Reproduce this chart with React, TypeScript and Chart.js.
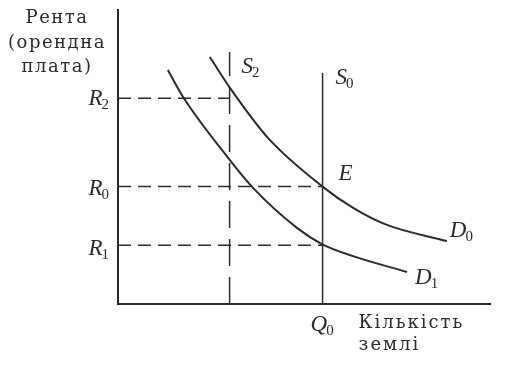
import React, { useEffect, useRef } from "react";
import { Chart, registerables } from "chart.js";

Chart.register(...registerables);

// Demand curves (quantity of land, rent)
const D0_X = [2.47, 3.01, 4.03, 5.48, 6.32, 7.23, 8.84];
const D0_Y = [8.4, 7.35, 5.65, 4.01, 3.27, 2.69, 2.14];
const D1_X = [1.34, 1.75, 2.96, 3.63, 4.81, 5.48, 6.32, 7.77];
const D1_Y = [7.96, 7.04, 4.97, 3.95, 2.59, 2.04, 1.63, 1.09];

// Supply lines (fixed quantities) and rent levels
const Q0 = 5.5;
const Q2 = 3.0;
const S0_TOP = 7.86;
const S2_TOP = 8.57;
const R2 = 7.0;
const R0 = 4.0;
const R1 = 2.0;

const Y_TITLE = ["Рента", "(орендна", "плата)"];
const X_TITLE = ["Кількість", "землі"];

const INK = "#2b2b2b";

const pts = (xs: number[], ys: number[]) => xs.map((x, i) => ({ x, y: ys[i] }));

function drawSub(
  ctx: CanvasRenderingContext2D,
  main: string,
  sub: string,
  x: number,
  cy: number,
  align: "left" | "right" | "center"
) {
  const mainFont = "italic 23px 'Liberation Serif', serif";
  const subFont = "15px 'Liberation Serif', serif";
  ctx.font = mainFont;
  const wm = ctx.measureText(main).width;
  ctx.font = subFont;
  const ws = ctx.measureText(sub).width;
  const total = wm + ws;
  let left = x;
  if (align === "right") left = x - total;
  if (align === "center") left = x - total / 2;
  ctx.textAlign = "left";
  ctx.textBaseline = "alphabetic";
  ctx.font = mainFont;
  ctx.fillText(main, left, cy + 7);
  ctx.font = subFont;
  ctx.fillText(sub, left + wm - 1, cy + 11);
}

const labelPlugin = {
  id: "labels",
  afterDraw(chart: any) {
    const ctx: CanvasRenderingContext2D = chart.ctx;
    const xs = chart.scales.x;
    const ys = chart.scales.y;
    const px = (v: number) => xs.getPixelForValue(v);
    const py = (v: number) => ys.getPixelForValue(v);
    ctx.save();
    ctx.fillStyle = INK;

    // rent labels
    const ax = xs.left;
    drawSub(ctx, "R", "2", ax - 8, py(R2), "right");
    drawSub(ctx, "R", "0", ax - 8, py(R0) + 2, "right");
    drawSub(ctx, "R", "1", ax - 8, py(R1) + 3, "right");

    // supply labels
    drawSub(ctx, "S", "2", px(Q2) + 12, py(S2_TOP) + 14, "left");
    drawSub(ctx, "S", "0", px(Q0) + 13, py(S0_TOP) + 4, "left");

    // equilibrium
    ctx.font = "italic 23px 'Liberation Serif', serif";
    ctx.textAlign = "left";
    ctx.textBaseline = "alphabetic";
    ctx.fillText("E", px(Q0) + 16, py(R0) - 6);

    // demand labels
    const d0x = D0_X[D0_X.length - 1];
    const d0y = D0_Y[D0_Y.length - 1];
    drawSub(ctx, "D", "0", px(d0x) + 3, py(d0y) - 11, "left");
    const d1x = D1_X[D1_X.length - 1];
    const d1y = D1_Y[D1_Y.length - 1];
    drawSub(ctx, "D", "1", px(d1x) + 8, py(d1y) + 5, "left");

    // Q0
    drawSub(ctx, "Q", "0", px(Q0), ys.bottom + 20, "center");

    // axis titles
    ctx.font = "18px 'DejaVu Serif', serif";
    (ctx as any).letterSpacing = "1.5px";
    ctx.textBaseline = "middle";
    ctx.textAlign = "center";
    const tcx = 57;
    ctx.fillText(Y_TITLE[0], tcx, ys.top + 8);
    ctx.fillText(Y_TITLE[1], tcx, ys.top + 33);
    ctx.fillText(Y_TITLE[2], tcx, ys.top + 57);

    (ctx as any).letterSpacing = "2px";
    ctx.textAlign = "left";
    ctx.fillText(X_TITLE[0], px(Q0) + 36, ys.bottom + 19);
    ctx.fillText(X_TITLE[1], px(Q0) + 36, ys.bottom + 41);
    ctx.restore();
  },
};

export default function App() {
  const ref = useRef<HTMLCanvasElement | null>(null);

  useEffect(() => {
    if (!ref.current) return;
    const curve = {
      borderColor: INK,
      borderWidth: 2,
      pointRadius: 0,
      tension: 0.4,
      cubicInterpolationMode: "monotone" as const,
      fill: false,
    };
    const dash = {
      borderColor: INK,
      borderWidth: 1.5,
      pointRadius: 0,
      borderDash: [13, 7],
      fill: false,
    };
    const chart = new Chart(ref.current, {
      type: "line",
      data: {
        datasets: [
          { ...curve, label: "D0", data: pts(D0_X, D0_Y) },
          { ...curve, label: "D1", data: pts(D1_X, D1_Y) },
          {
            ...dash,
            label: "S2",
            borderDash: [27, 11],
            data: [
              { x: Q2, y: 0 },
              { x: Q2, y: S2_TOP },
            ],
          },
          {
            label: "S0",
            borderColor: INK,
            borderWidth: 1.5,
            pointRadius: 0,
            data: [
              { x: Q0, y: 0 },
              { x: Q0, y: S0_TOP },
            ],
          },
          {
            ...dash,
            label: "R2",
            data: [
              { x: 0, y: R2 },
              { x: Q2, y: R2 },
            ],
          },
          {
            ...dash,
            label: "R0",
            data: [
              { x: 0, y: R0 },
              { x: Q0, y: R0 },
            ],
          },
          {
            ...dash,
            label: "R1",
            data: [
              { x: 0, y: R1 },
              { x: Q0, y: R1 },
            ],
          },
        ],
      },
      options: {
        responsive: false,
        animation: false,
        events: [],
        layout: { padding: { left: 118, right: 33, top: 10, bottom: 63 } },
        plugins: { legend: { display: false }, tooltip: { enabled: false } },
        scales: {
          x: {
            type: "linear",
            min: 0,
            max: 10,
            ticks: { display: false },
            grid: { display: false },
            border: { display: true, color: INK, width: 2 },
            afterFit: (s: any) => {
              s.height = 0;
            },
          },
          y: {
            type: "linear",
            min: 0,
            max: 10,
            ticks: { display: false },
            grid: { display: false },
            border: { display: true, color: INK, width: 2 },
            afterFit: (s: any) => {
              s.width = 0;
            },
          },
        },
      },
      plugins: [labelPlugin],
    });
    return () => chart.destroy();
  }, []);

  return (
    <div style={{ position: "fixed", left: 0, top: 0, width: 523, height: 367, background: "#fff" }}>
      <canvas ref={ref} width={523} height={367} style={{ width: 523, height: 367 }} />
    </div>
  );
}
